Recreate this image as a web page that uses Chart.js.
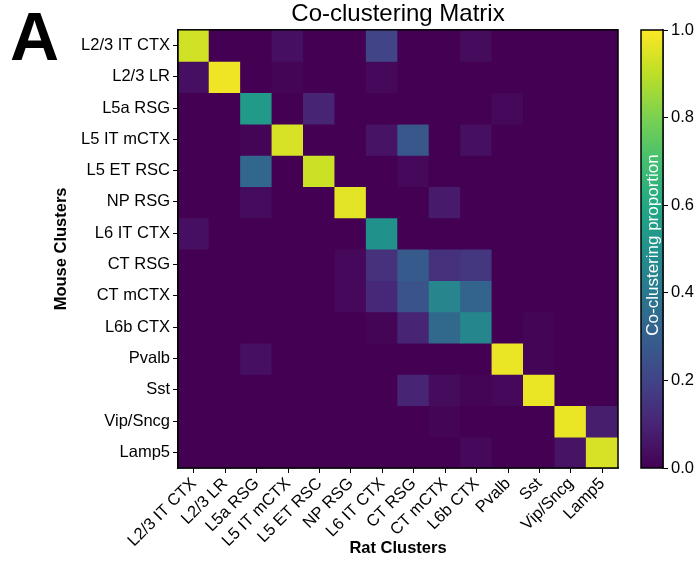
<!DOCTYPE html>
<html>
<head>
<meta charset="utf-8">
<script src="https://cdn.jsdelivr.net/npm/chart.js@4.4.1/dist/chart.umd.min.js"></script>
<style>
  body { margin: 0; background: #fff; width: 700px; height: 562px; overflow: hidden; position: relative; }
  #panel { position: absolute; left: 10px; top: -3px; font: bold 68px "Liberation Sans", Arial, sans-serif; color: #000; }
  #heatmap { position: absolute; left: 0; top: 0; }
  #colorbar { position: absolute; left: 620px; top: 0; }
</style>
</head>
<body>
<div id="panel">A</div>
<canvas id="heatmap" width="630" height="562"></canvas>
<canvas id="colorbar" width="80" height="562"></canvas>
<script>
const ratClusters = ['L2/3 IT CTX', 'L2/3 LR', 'L5a RSG', 'L5 IT mCTX', 'L5 ET RSC', 'NP RSG', 'L6 IT CTX',
  'CT RSG', 'CT mCTX', 'L6b CTX', 'Pvalb', 'Sst', 'Vip/Sncg', 'Lamp5'];
const mouseClusters = ['L2/3 IT CTX', 'L2/3 LR', 'L5a RSG', 'L5 IT mCTX', 'L5 ET RSC', 'NP RSG', 'L6 IT CTX',
  'CT RSG', 'CT mCTX', 'L6b CTX', 'Pvalb', 'Sst', 'Vip/Sncg', 'Lamp5'];

// rows = mouse clusters, columns = rat clusters
const coClustering = [
  [0.93, 0.00, 0.00, 0.04, 0.00, 0.00, 0.20, 0.00, 0.00, 0.03, 0.00, 0.00, 0.00, 0.00],
  [0.04, 0.98, 0.00, 0.01, 0.00, 0.00, 0.02, 0.00, 0.00, 0.00, 0.00, 0.00, 0.00, 0.00],
  [0.00, 0.00, 0.54, 0.00, 0.10, 0.00, 0.00, 0.00, 0.00, 0.00, 0.02, 0.00, 0.00, 0.00],
  [0.00, 0.00, 0.01, 0.94, 0.00, 0.00, 0.05, 0.27, 0.00, 0.04, 0.00, 0.00, 0.00, 0.00],
  [0.00, 0.00, 0.33, 0.00, 0.92, 0.00, 0.00, 0.02, 0.00, 0.00, 0.00, 0.00, 0.00, 0.00],
  [0.00, 0.00, 0.03, 0.00, 0.00, 0.96, 0.00, 0.00, 0.07, 0.00, 0.00, 0.00, 0.00, 0.00],
  [0.04, 0.00, 0.00, 0.00, 0.00, 0.00, 0.50, 0.00, 0.00, 0.00, 0.00, 0.00, 0.00, 0.00],
  [0.00, 0.00, 0.00, 0.00, 0.00, 0.02, 0.14, 0.28, 0.14, 0.16, 0.00, 0.00, 0.00, 0.00],
  [0.00, 0.00, 0.00, 0.00, 0.00, 0.02, 0.11, 0.26, 0.45, 0.32, 0.00, 0.00, 0.00, 0.00],
  [0.00, 0.00, 0.00, 0.00, 0.00, 0.00, 0.01, 0.10, 0.34, 0.46, 0.00, 0.01, 0.00, 0.00],
  [0.00, 0.00, 0.04, 0.00, 0.00, 0.00, 0.00, 0.00, 0.00, 0.00, 0.97, 0.01, 0.00, 0.00],
  [0.00, 0.00, 0.00, 0.00, 0.00, 0.00, 0.00, 0.10, 0.03, 0.01, 0.02, 0.97, 0.00, 0.00],
  [0.00, 0.00, 0.00, 0.00, 0.00, 0.00, 0.00, 0.00, 0.01, 0.00, 0.00, 0.00, 0.97, 0.08],
  [0.00, 0.00, 0.00, 0.00, 0.00, 0.00, 0.00, 0.00, 0.00, 0.02, 0.00, 0.00, 0.05, 0.94]
];

const colorbarTicks = [0, 0.2, 0.4, 0.6, 0.8, 1.0];

// matplotlib viridis, sampled every 0.1
const viridisStops = ['#440154', '#482475', '#414487', '#355f8d', '#2a788e', '#21918c',
  '#22a884', '#44bf70', '#7ad151', '#bddf26', '#fde725'];

function hexToRgb(h) {
  return [parseInt(h.slice(1, 3), 16), parseInt(h.slice(3, 5), 16), parseInt(h.slice(5, 7), 16)];
}

function viridis(v) {
  v = Math.max(0, Math.min(1, v));
  const pos = v * (viridisStops.length - 1);
  const i = Math.min(Math.floor(pos), viridisStops.length - 2);
  const t = pos - i;
  const a = hexToRgb(viridisStops[i]), b = hexToRgb(viridisStops[i + 1]);
  const c = a.map((x, k) => Math.round(x + (b[k] - x) * t));
  return `rgb(${c[0]}, ${c[1]}, ${c[2]})`;
}

const fontFamily = '"Liberation Sans", Arial, sans-serif';

const frame = {
  id: 'frame',
  afterDraw(chart) {
    const { ctx, chartArea: a } = chart;
    ctx.save();
    ctx.strokeStyle = '#000';
    ctx.lineWidth = 1.5;
    ctx.strokeRect(a.left, a.top, a.right - a.left, a.bottom - a.top);
    ctx.restore();
  }
};

// one stacked dataset per mouse cluster (row), each cell has height 1
const heatCtx = document.getElementById('heatmap').getContext('2d');
const heatChart = new Chart(heatCtx, {
  type: 'bar',
  data: {
    labels: ratClusters,
    datasets: mouseClusters.map((name, i) => ({
      label: name,
      data: ratClusters.map(() => 1),
      backgroundColor: coClustering[i].map(viridis),
      borderWidth: 0,
      inflateAmount: 0.7,
      barPercentage: 1,
      categoryPercentage: 1
    }))
  },
  options: {
    responsive: false,
    animation: false,
    layout: { padding: { left: 0, right: 12, top: 0, bottom: 0 } },
    plugins: {
      legend: { display: false },
      tooltip: { enabled: false },
      title: {
        display: true,
        text: 'Co-clustering Matrix',
        fullSize: false,
        color: '#000',
        font: { family: fontFamily, size: 24, weight: 'normal', lineHeight: 1.2 },
        padding: { top: 0, bottom: 1 }
      }
    },
    scales: {
      x: {
        stacked: true,
        afterFit(scale) { scale.height = 94; },
        grid: { display: true, drawOnChartArea: false, offset: false, tickLength: 5, color: '#000', lineWidth: 1 },
        border: { display: true, color: '#000', width: 1.5 },
        ticks: { color: '#000', font: { family: fontFamily, size: 16.5 }, maxRotation: 45, minRotation: 45, padding: 1, autoSkip: false },
        title: {
          display: true, text: 'Rat Clusters', color: '#000',
          font: { family: fontFamily, size: 16.5, weight: 'bold' }, padding: { top: 0, bottom: 4 }
        }
      },
      y: {
        type: 'linear',
        stacked: true,
        min: 0,
        max: mouseClusters.length,
        reverse: true,
        afterFit(scale) { scale.width = 178; },
        afterBuildTicks(scale) { scale.ticks = mouseClusters.map((_, i) => ({ value: i + 0.5 })); },
        grid: { display: true, drawOnChartArea: false, tickLength: 5, color: '#000', lineWidth: 1 },
        border: { display: true, color: '#000', width: 1.5 },
        ticks: {
          color: '#000', font: { family: fontFamily, size: 16.5 }, padding: 3, autoSkip: false,
          callback: (v) => mouseClusters[Math.floor(v)]
        },
        title: {
          display: true, text: 'Mouse Clusters', color: '#000',
          font: { family: fontFamily, size: 16.5, weight: 'bold' }, padding: { top: 52, bottom: 0 }
        }
      }
    }
  },
  plugins: [frame]
});

// colorbar: gradient in the chart area plus a right-hand value axis
const gradientFill = {
  id: 'gradientFill',
  beforeDatasetsDraw(chart) {
    const { ctx, chartArea: a } = chart;
    const g = ctx.createLinearGradient(0, a.bottom, 0, a.top);
    viridisStops.forEach((c, i) => g.addColorStop(i / (viridisStops.length - 1), c));
    ctx.save();
    ctx.fillStyle = g;
    ctx.fillRect(a.left, a.top, a.right - a.left, a.bottom - a.top);
    ctx.translate((a.left + a.right) / 2, (a.top + a.bottom) / 2 - 4);
    ctx.rotate(-Math.PI / 2);
    ctx.fillStyle = '#fff';
    ctx.font = '17px ' + fontFamily;
    ctx.textAlign = 'center';
    ctx.textBaseline = 'middle';
    ctx.fillText('Co-clustering proportion', 0, 1);
    ctx.restore();
  }
};

const cbCtx = document.getElementById('colorbar').getContext('2d');
const cbChart = new Chart(cbCtx, {
  type: 'scatter',
  data: { datasets: [{ data: [] }] },
  options: {
    responsive: false,
    animation: false,
    layout: { padding: { left: 21, right: 0, top: 30, bottom: 94 } },
    plugins: { legend: { display: false }, tooltip: { enabled: false } },
    scales: {
      x: { display: false },
      y: {
        position: 'right',
        min: 0,
        max: 1,
        afterFit(scale) { scale.width = 37; },
        afterBuildTicks(scale) { scale.ticks = colorbarTicks.map(v => ({ value: v })); },
        grid: { display: true, drawOnChartArea: false, tickLength: 5, color: '#000', lineWidth: 1 },
        border: { display: true, color: '#000', width: 1.5 },
        ticks: { color: '#000', font: { family: fontFamily, size: 16.5 }, padding: 3, callback: (v) => v.toFixed(1) }
      }
    }
  },
  plugins: [gradientFill, frame]
});
</script>
</body>
</html>
